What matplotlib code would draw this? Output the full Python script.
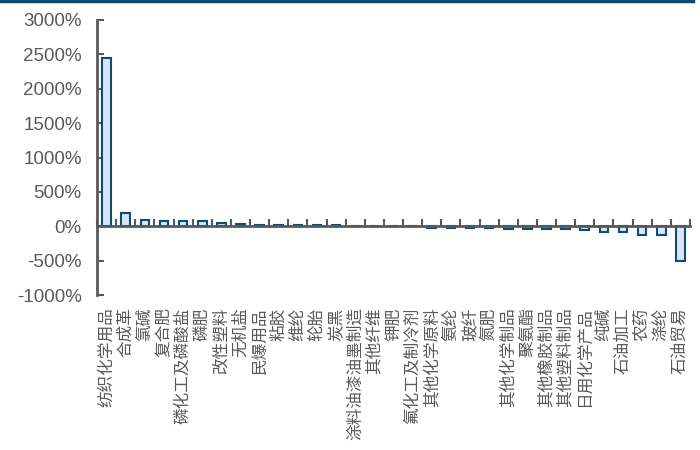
import matplotlib
matplotlib.use("Agg")
import matplotlib.pyplot as plt
import matplotlib.transforms as mtransforms
from matplotlib.lines import Line2D
import numpy as np

plt.rcParams['font.family'] = ['Liberation Sans', 'Noto Sans CJK SC', 'DejaVu Sans']

# 行业及数值（%）
categories = ['纺织化学用品', '合成革', '氯碱', '复合肥', '磷化工及磷酸盐', '磷肥',
              '改性塑料', '无机盐', '民爆用品', '粘胶', '维纶', '轮胎', '炭黑',
              '涂料油漆油墨制造', '其他纤维', '钾肥', '氟化工及制冷剂', '其他化学原料',
              '氨纶', '玻纤', '氮肥', '其他化学制品', '聚氨酯', '其他橡胶制品',
              '其他塑料制品', '日用化学产品', '纯碱', '石油加工', '农药', '涤纶', '石油贸易']
values = [2450, 200, 85, 80, 80, 80, 45, 40, 20, 15, 15, 12, 12, 10, 8, 5, 3,
          -25, -30, -30, -32, -35, -45, -45, -45, -48, -80, -80, -130, -130, -510]
yticks = [-1000, -500, 0, 500, 1000, 1500, 2000, 2500, 3000]

gray = '#595959'
edge = '#0e4d73'
fill = '#dce6f2'

fig = plt.figure(figsize=(7, 4.5), dpi=100)
ax = fig.add_axes([97/700, 1-295/450, (690-97)/700, (295-20)/450])

x = np.arange(len(categories))
ax.bar(x, values, width=0.45, color=fill, edgecolor=edge, linewidth=1.5, zorder=2)

ax.set_xlim(-0.5, len(categories) - 0.5)
ax.set_ylim(-1000, 3000)
ax.set_yticks(yticks)
ax.set_yticklabels([f'{v}%' for v in yticks], fontsize=13.5, color=gray)
ax.tick_params(axis='y', direction='in', length=5, width=1.5, color=gray, pad=11)

# x轴放在0处，刻度在类别之间
ax.spines['bottom'].set_position(('data', 0))
ax.spines['bottom'].set_color(gray)
ax.spines['bottom'].set_linewidth(2)
ax.spines['bottom'].set_zorder(3)
ax.spines['left'].set_color(gray)
ax.spines['left'].set_linewidth(2)
ax.spines['top'].set_visible(False)
ax.spines['right'].set_visible(False)
ax.set_xticks(np.arange(len(categories) + 1) - 0.5)
ax.set_xticklabels([])
ax.tick_params(axis='x', direction='in', length=5, width=1.5, color=gray)

trans = mtransforms.blended_transform_factory(ax.transData, ax.transAxes)
for i, name in enumerate(categories):
    ax.text(i, -0.045, name, transform=trans, rotation=90, ha='center', va='top',
            fontsize=12, color=gray, family=['Noto Sans CJK SC', 'DejaVu Sans'])

# 顶部深蓝色横线
fig.add_artist(Line2D([0, 693/700], [1 - 1/450, 1 - 1/450], color='#0b4a6f',
                      linewidth=2.5, transform=fig.transFigure))

fig.savefig('out.png', dpi=100)
